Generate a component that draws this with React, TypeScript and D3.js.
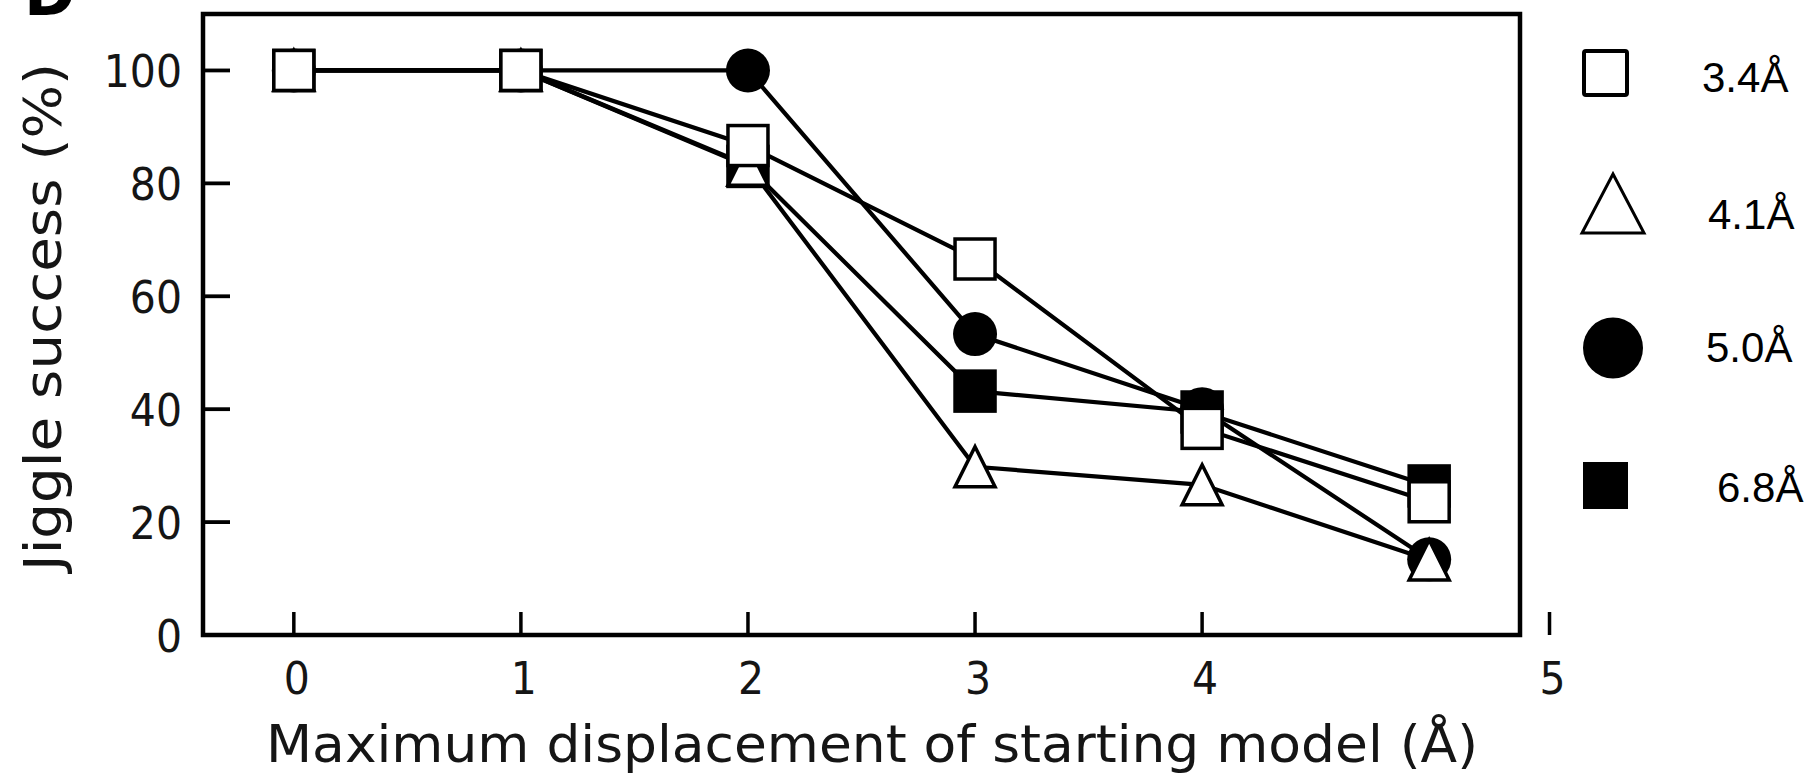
import React, { useRef, useEffect } from "react";
import * as d3 from "d3";

// displacement values on the x axis
const displacements = [0, 1, 2, 3, 4, 5];

// jiggle success (%) for each map resolution
const res34 = [100, 100, 86.7, 66.6, 36.6, 23.6];
const res41 = [100, 100, 83.2, 29.8, 26.6, 13.3];
const res50 = [100, 100, 100, 53.3, 40.0, 13.4];
const res68 = [100, 100, 83.0, 43.2, 39.5, 26.4];

const yTicks = [0, 20, 40, 60, 80, 100];
const xTicks = [0, 1, 2, 3, 4];
// the "5" tick sits outside the frame in the original figure
const strayTickValue = 5.53;
const strayTickLabel = "5";

const legendLabels = ["3.4Å", "4.1Å", "5.0Å", "6.8Å"];

const App = () => {
  const svgRef = useRef(null);

  useEffect(() => {
    const svg = d3.select(svgRef.current);
    svg.selectAll("*").remove();

    const left = 203, right = 1520, top = 14, bottom = 635;

    const x = d3.scaleLinear().domain([-0.4, 5.4]).range([left, right]);
    const y = d3.scaleLinear().domain([0, 110]).range([bottom, top]);

    svg.append("rect").attr("width", 1809).attr("height", 777).attr("fill", "#fff");

    // panel letter, clipped at the top of the picture
    svg.append("text")
      .attr("x", 24).attr("y", 15)
      .attr("font-family", "DejaVu Sans").attr("font-weight", "bold")
      .attr("font-size", 62).text("D");

    const tickText = (tx, ty, anchor, label) =>
      svg.append("text")
        .attr("transform", `translate(${tx},${ty}) scale(1,1.1)`)
        .attr("text-anchor", anchor)
        .attr("font-family", "DejaVu Sans").attr("font-size", 41)
        .attr("fill", "#151515")
        .text(label);

    // ticks (inward)
    yTicks.forEach((v) => {
      svg.append("line")
        .attr("x1", left).attr("x2", left + 27)
        .attr("y1", y(v)).attr("y2", y(v))
        .attr("stroke", "#000").attr("stroke-width", 3.8);
      tickText(182, y(v) + 17, "end", v);
    });

    xTicks.forEach((v) => {
      svg.append("line")
        .attr("x1", x(v)).attr("x2", x(v))
        .attr("y1", bottom).attr("y2", bottom - 23)
        .attr("stroke", "#000").attr("stroke-width", 3.5);
      tickText(x(v) + 3, 694, "middle", v);
    });

    svg.append("line")
      .attr("x1", x(strayTickValue)).attr("x2", x(strayTickValue))
      .attr("y1", bottom).attr("y2", bottom - 23)
      .attr("stroke", "#000").attr("stroke-width", 3.5);
    tickText(x(strayTickValue) + 3, 694, "middle", strayTickLabel);

    // axis labels
    svg.append("text")
      .attr("transform", "translate(61,317) rotate(-90)")
      .attr("text-anchor", "middle")
      .attr("font-family", "DejaVu Sans").attr("font-size", 52)
      .attr("fill", "#151515")
      .attr("textLength", 508).attr("lengthAdjust", "spacingAndGlyphs")
      .text("Jiggle success (%)");

    svg.append("text")
      .attr("x", 872).attr("y", 762)
      .attr("text-anchor", "middle")
      .attr("font-family", "DejaVu Sans").attr("font-size", 52)
      .attr("fill", "#151515")
      .attr("textLength", 1212).attr("lengthAdjust", "spacingAndGlyphs")
      .text("Maximum displacement of starting model (Å)");

    const line = d3.line()
      .x((d, i) => x(displacements[i]))
      .y((d) => y(d));

    const tri = (cx, cy, h) =>
      `M${cx},${cy - h}L${cx + h},${cy + h}L${cx - h},${cy + h}Z`;

    // drawing order: circle, filled square, triangle, open square
    const series = [
      { values: res50, shape: "circle" },
      { values: res68, shape: "fsquare" },
      { values: res41, shape: "triangle" },
      { values: res34, shape: "osquare" },
    ];

    series.forEach((s) => {
      svg.append("path")
        .datum(s.values)
        .attr("fill", "none")
        .attr("stroke", "#000")
        .attr("stroke-width", 4.2)
        .attr("d", line);

      const g = svg.append("g");
      s.values.forEach((v, i) => {
        const cx = x(displacements[i]);
        const cy = y(v);
        if (s.shape === "circle") {
          g.append("circle").attr("cx", cx).attr("cy", cy).attr("r", 22).attr("fill", "#000");
        } else if (s.shape === "fsquare") {
          g.append("rect").attr("x", cx - 20).attr("y", cy - 20).attr("width", 40).attr("height", 40)
            .attr("fill", "#000").attr("stroke", "#000").attr("stroke-width", 3.5);
        } else if (s.shape === "triangle") {
          g.append("path").attr("d", tri(cx, cy, 20))
            .attr("fill", "#fff").attr("stroke", "#000").attr("stroke-width", 3.5);
        } else {
          g.append("rect").attr("x", cx - 20).attr("y", cy - 20).attr("width", 40).attr("height", 40)
            .attr("fill", "#fff").attr("stroke", "#000").attr("stroke-width", 3.5);
        }
      });
    });

    // frame
    svg.append("rect")
      .attr("x", left).attr("y", top)
      .attr("width", right - left).attr("height", bottom - top)
      .attr("fill", "none").attr("stroke", "#000").attr("stroke-width", 4.5);

    // legend
    const lg = svg.append("g");
    lg.append("rect").attr("x", 1584).attr("y", 51).attr("width", 43).attr("height", 44).attr("rx", 2)
      .attr("fill", "#fff").attr("stroke", "#000").attr("stroke-width", 4);
    lg.append("path").attr("d", "M1613,174L1644,233L1582,233Z")
      .attr("fill", "#fff").attr("stroke", "#000").attr("stroke-width", 3);
    lg.append("ellipse").attr("cx", 1613).attr("cy", 348).attr("rx", 30).attr("ry", 30.5).attr("fill", "#000");
    lg.append("rect").attr("x", 1583).attr("y", 462).attr("width", 45).attr("height", 47).attr("fill", "#000");

    const labelPos = [[1702, 92], [1708, 229], [1706, 362], [1717, 502]];
    legendLabels.forEach((t, i) => {
      lg.append("text")
        .attr("x", labelPos[i][0]).attr("y", labelPos[i][1])
        .attr("font-family", "Liberation Sans, Arial").attr("font-size", 42)
        .attr("fill", "#000")
        .text(t);
    });
  }, []);

  return (
    <svg
      ref={svgRef}
      width={1809}
      height={777}
      style={{ position: "absolute", left: 0, top: 0 }}
    ></svg>
  );
};

export default App;
